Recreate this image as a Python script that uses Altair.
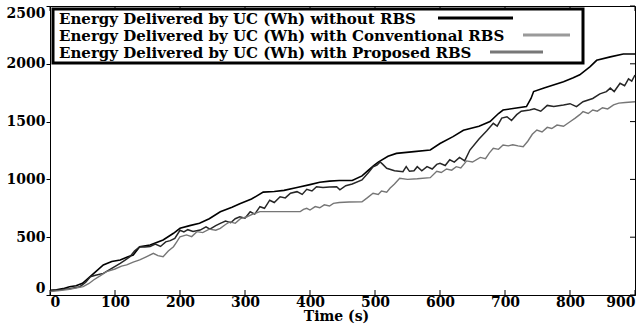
import altair as alt
import pandas as pd

# ---- data ----
series_names = [
    "Energy Delivered by UC (Wh) without RBS",
    "Energy Delivered by UC (Wh) with Conventional RBS",
    "Energy Delivered by UC (Wh) with Proposed RBS",
]

without_t = [0,10,20,30,40,50,60,70,82,95,108,120,128,138,154,174,190,200,215,230,245,262,280,292,310,328,345,360,380,400,415,430,445,465,480,490,498,505,520,533,560,585,600,620,636,660,677,690,697,715,733,740,744,760,790,805,815,831,841,862,882,900]
without_v = [40,45,55,72,80,101,150,200,260,290,303,330,346,418,432,476,534,577,600,620,660,720,760,790,830,890,895,905,930,955,975,985,990,990,1030,1080,1120,1150,1200,1225,1240,1255,1310,1370,1425,1460,1500,1570,1600,1615,1630,1700,1760,1790,1845,1880,1905,1975,2030,2060,2085,2085]

conv_t = [0,15,30,46,55,62,70,82,95,108,115,123,130,138,146,154,162,170,178,185,192,200,206,212,220,231,240,246,255,262,270,278,285,292,300,308,315,323,330,338,345,354,362,370,380,388,395,403,410,420,430,441,446,455,465,480,490,497,503,508,512,518,530,543,548,553,560,565,572,580,588,595,600,608,615,622,630,638,646,660,672,682,688,695,703,710,718,725,738,745,755,765,775,790,800,810,820,835,846,856,862,868,877,884,890,895,900]
conv_v = [35,45,55,72,110,158,170,187,230,274,300,331,380,418,415,420,440,420,460,470,490,560,545,565,550,562,590,570,600,620,640,625,660,677,665,720,700,764,750,820,800,850,840,880,894,870,914,900,937,930,935,937,910,945,960,995,1060,1110,1124,1150,1130,1096,1075,1067,1110,1070,1075,1110,1075,1110,1090,1130,1139,1120,1170,1150,1190,1160,1254,1350,1420,1485,1460,1530,1542,1510,1560,1590,1600,1610,1590,1640,1630,1644,1655,1630,1672,1700,1740,1759,1790,1760,1831,1810,1870,1850,1903]

prop_t = [0,15,30,51,60,67,77,87,100,110,118,128,138,148,159,166,174,182,190,195,200,210,218,226,235,245,255,262,270,277,285,293,303,312,323,340,360,385,390,395,400,408,415,422,430,436,445,460,480,488,497,505,510,518,523,530,538,550,565,585,595,602,610,618,625,632,641,650,662,670,676,682,690,697,705,712,720,728,735,742,749,757,765,772,780,790,800,808,815,820,828,835,842,850,858,867,875,885,900]
prop_v = [30,38,50,72,100,130,165,202,225,250,260,285,303,330,360,340,331,380,418,460,504,520,505,548,540,570,560,577,610,634,620,660,677,700,721,721,721,721,740,750,735,765,755,780,770,793,800,805,807,840,880,870,900,890,923,960,1009,1000,1005,1015,1070,1060,1090,1080,1110,1100,1160,1150,1190,1180,1230,1269,1260,1298,1290,1300,1290,1283,1330,1390,1427,1410,1450,1440,1470,1460,1499,1530,1560,1586,1570,1600,1590,1620,1610,1644,1660,1665,1672]

x_ticks = [0, 100, 200, 300, 400, 500, 600, 700, 800, 900]
y_ticks = [0, 500, 1000, 1500, 2000, 2500]

line_colors = ["#000000", "#262626", "#767676"]
line_widths = [1.6, 1.4, 2.0]
legend_colors = ["#000000", "#9a9a9a", "#777777"]

# ---- build table ----
rows = []
for name, ts, vs in zip(series_names, [without_t, conv_t, prop_t], [without_v, conv_v, prop_v]):
    assert len(ts) == len(vs), name
    for t, v in zip(ts, vs):
        rows.append({"series": name, "t": t, "v": v})
df = pd.DataFrame(rows)

W, H = 585, 289
FONT = "DejaVu Serif"

X = alt.X("t:Q", scale=alt.Scale(domain=[0, 900], nice=False),
          axis=alt.Axis(values=x_ticks, title="Time (s)", ticks=False, grid=False, format="d",
                        labelFlush=True, labelPadding=0, titleX=286, titleY=25,
                        titleBaseline="alphabetic", titleAnchor="start", titleAlign="center"))
Y = alt.Y("v:Q", scale=alt.Scale(domain=[0, 2500], nice=False),
          axis=alt.Axis(values=y_ticks, title=None, grid=False, tickSize=4, labelPadding=1,
                        format="d", labelFlush=True))

lines = alt.Chart(df).mark_line().encode(
    x=X, y=Y,
    color=alt.Color("series:N", scale=alt.Scale(domain=series_names, range=line_colors), legend=None),
    strokeWidth=alt.StrokeWidth("series:N", scale=alt.Scale(domain=series_names, range=line_widths), legend=None),
    detail="series:N",
)

xt = pd.DataFrame({"t": x_ticks})
yt = pd.DataFrame({"v": y_ticks})
bottom_ticks = alt.Chart(xt).mark_rule(color="black", strokeWidth=1).encode(
    x=X, y=alt.value(H), y2=alt.value(H - 5))
top_ticks = alt.Chart(xt).mark_rule(color="black", strokeWidth=1).encode(
    x=X, y=alt.value(0), y2=alt.value(5))
right_ticks = alt.Chart(yt).mark_rule(color="black", strokeWidth=1).encode(
    y=Y, x=alt.value(W), x2=alt.value(W - 5))

one = pd.DataFrame({"a": [0]})
legend_box = alt.Chart(one).mark_rect(fill="white", stroke="black", strokeWidth=3).encode(
    x=alt.value(3), x2=alt.value(533), y=alt.value(3), y2=alt.value(57))

legend_layers = []
row_baselines = [18, 35, 52]
row_line_y = [12, 29, 46]
row_line_x = [(388, 463), (473, 520), (440, 493)]
for name, yb, ly, (lx1, lx2), col in zip(series_names, row_baselines, row_line_y, row_line_x, legend_colors):
    legend_layers.append(
        alt.Chart(pd.DataFrame({"label": [name]})).mark_text(
            align="left", baseline="alphabetic", font=FONT, fontSize=15, fontWeight="bold", color="black"
        ).encode(text="label:N", x=alt.value(9), y=alt.value(yb))
    )
    legend_layers.append(
        alt.Chart(one).mark_rule(color=col, strokeWidth=3).encode(
            x=alt.value(lx1), x2=alt.value(lx2), y=alt.value(ly))
    )

chart = alt.layer(lines, bottom_ticks, top_ticks, right_ticks, legend_box, *legend_layers).properties(
    width=W, height=H,
    padding={"left": 50, "top": 6, "right": 9, "bottom": 29},
    autosize=alt.AutoSizeParams(type="none"),
).configure_view(
    stroke="black", strokeWidth=1
).configure_axis(
    labelFont=FONT, labelFontSize=14, labelFontWeight="bold", labelColor="black",
    titleFont=FONT, titleFontSize=14, titleFontWeight="bold", titleColor="black",
    domainColor="black", tickColor="black",
)

chart.save("out.html", embed_options={"renderer": "svg", "actions": False})
